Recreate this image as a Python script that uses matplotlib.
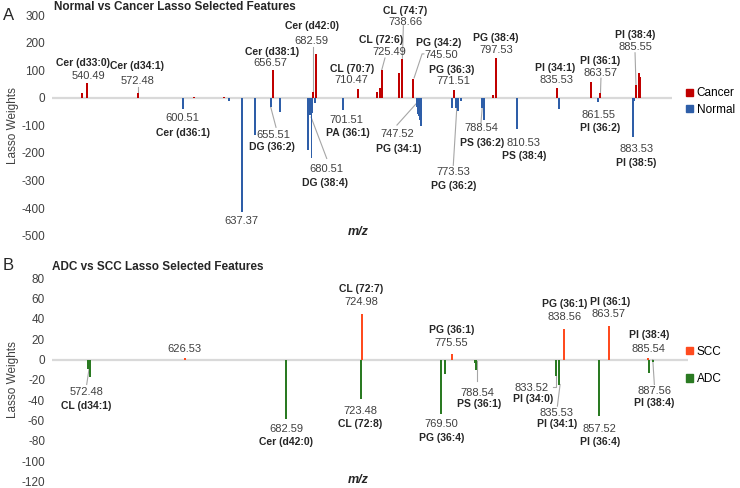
import matplotlib
matplotlib.use('Agg')
import matplotlib.pyplot as plt
from matplotlib.patches import Patch

plt.rcParams['font.family'] = ['Liberation Sans', 'DejaVu Sans']
plt.rcParams['axes.unicode_minus'] = False

# ---------------- Panel A data (Normal vs Cancer) ----------------
a_cancer_mz = [537.5, 540.5, 572.5, 607.5, 626.0, 656.6, 681.9, 683.8, 709.6,
               721.5, 723.6, 724.6, 735.5, 737.4, 744.2, 770.0, 794.4, 796.0,
               834.0, 855.5, 861.3, 883.4, 885.3, 886.3]
a_cancer_w = [16, 52, 16, 2, 2, 101, 22, 158, 30,
              22, 34, 101, 89, 141, 68, 28, 10, 143,
              34, 58, 16, 46, 89, 76]
a_normal_mz = [600.7, 629.0, 637.4, 645.5, 655.2, 661.0, 678.5, 679.3, 680.0,
               680.8, 681.4, 683.0, 700.7, 746.5, 747.2, 747.8, 748.4, 749.0,
               768.4, 771.0, 772.6, 774.0, 787.3, 788.0, 788.6, 809.2, 835.5,
               859.9, 881.9, 882.6]
a_normal_w = [-39, -12, -415, -136, -33, -51, -190, -62, -62,
              -218, -55, -20, -45, -33, -58, -67, -80, -103,
              -36, -36, -48, -10, -38, -38, -81, -115, -42,
              -15, -142, -10]

# ---------------- Panel B data (ADC vs SCC) ----------------
b_scc_mz = [626.1, 724.9, 775.4, 838.1, 862.9, 885.2]
b_scc_w = [1.5, 45, 5.6, 30.4, 33.3, 1.5]
b_adc_mz = [571.8, 572.4, 573.0, 682.6, 724.3, 769.4, 771.5, 788.3, 788.8,
            833.3, 835.3, 857.5, 885.6, 887.6]
b_adc_w = [-9, -9, -17, -58, -39, -54, -14, -3, -10,
           -16, -25, -56, -13, -2]

a_yticks = list(range(-500, 301, 100))
b_yticks = list(range(-120, 81, 20))

# labels: (name, value, name position, value position)
a_labels = [
    ("Cer (d33:0)", "540.49", (538.2, 125), (541.1, 79)),
    ("Cer (d34:1)", "572.48", (571.9, 116), (572.2, 62)),
    ("Cer (d36:1)", "600.51", (600.3, -126), (600.3, -75)),
    ("Cer (d38:1)", "656.57", (655.9, 167), (654.9, 125)),
    ("DG (36:2)", "655.51", (655.9, -178), (656.9, -136)),
    ("Cer (d42:0)", "682.59", (680.9, 261), (680.9, 207)),
    ("DG (38:4)", "680.51", (689.2, -309), (690.3, -257)),
    ("", "637.37", None, (637.2, -448)),
    ("CL (70:7)", "710.47", (705.9, 103), (705.9, 64)),
    ("PA (36:1)", "701.51", (703.8, -127), (702.8, -79)),
    ("CL (72:6)", "725.49", (724.2, 210), (729.2, 167)),
    ("CL (74:7)", "738.66", (739.2, 313), (739.6, 276)),
    ("PG (34:2)", "745.50", (760.1, 198), (761.7, 155)),
    ("PG (36:3)", "771.51", (768.4, 101), (769.4, 61)),
    ("PG (38:4)", "797.53", (796.1, 216), (796.1, 173)),
    ("PG (34:1)", "747.52", (735.1, -187), (734.4, -133)),
    ("PG (36:2)", "773.53", (769.4, -319), (769.4, -269)),
    ("PS (36:2)", "788.54", (787.2, -164), (786.7, -111)),
    ("PS (38:4)", "810.53", (813.6, -211), (813.2, -164)),
    ("PI (34:1)", "835.53", (833.0, 107), (833.6, 64)),
    ("PI (36:1)", "863.57", (861.1, 133), (861.1, 91)),
    ("PI (36:2)", "861.55", (861.1, -111), (860.1, -63)),
    ("PI (38:4)", "885.55", (883.4, 228), (883.4, 185)),
    ("PI (38:5)", "883.53", (883.6, -235), (884.1, -184)),
]
a_leaders = [
    [(572.5, 40), (572.5, 20)],
    [(655.3, -34), (658.6, -107)],
    [(681.5, 184), (681.5, 22)],
    [(680.5, -70), (690.3, -220)],
    [(726.7, 144), (724.7, 101)],
    [(738.2, 261), (737.6, 143)],
    [(751.0, 159), (749.9, 159), (744.9, 72)],
    [(746.6, -19), (734.2, -99)],
    [(771.9, -8), (769.4, -245)],
    [(787.5, -34), (786.7, -92)],
    [(861.7, 71), (861.4, 17)],
    [(883.0, 163), (883.6, 46)],
]

b_labels = [
    ("", "626.53", None, (626.1, 10.8)),
    ("CL (d34:1)", "572.48", (570.8, -45.8), (571.2, -31.7)),
    ("Cer (d42:0)", "682.59", (682.6, -81.6), (682.6, -68.6)),
    ("CL (72:7)", "724.98", (724.5, 69.6), (724.5, 56.8)),
    ("CL (72:8)", "723.48", (724.0, -63.7), (724.0, -50.7)),
    ("PG (36:1)", "775.55", (775.2, 29.4), (775.2, 16.4)),
    ("PG (36:4)", "769.50", (769.6, -76.7), (769.6, -63.7)),
    ("PS (36:1)", "788.54", (790.3, -43.4), (789.8, -32.6)),
    ("PG (36:1)", "838.56", (838.2, 54.6), (838.2, 41.8)),
    ("PI (36:1)", "863.57", (863.7, 56.2), (863.1, 45.1)),
    ("PI (38:4)", "885.54", (885.5, 24.5), (885.1, 10.8)),
    ("PI (34:0)", "833.52", (820.5, -39.2), (819.6, -27.7)),
    ("PI (34:1)", "835.53", (834.3, -63.0), (833.9, -52.2)),
    ("PI (36:4)", "857.52", (858.1, -81.0), (857.7, -68.6)),
    ("PI (38:4)", "887.56", (888.5, -42.4), (888.5, -31.1)),
]
b_leaders = [
    [(572.6, -8.1), (571.2, -24.5)],
    [(789.2, -1.7), (789.2, -21.3)],
    [(831.6, -27.4), (833.3, -27.4), (833.3, -15.7)],
    [(835.8, -24.5), (834.3, -45.8)],
    [(887.6, 0), (888.5, -24.5)],
]

RED = '#C00000'
BLUE = '#2E5EA8'
ORANGE = '#FF4B1F'
GREEN = '#2A7A22'
GRID = '#D9D9D9'
TXT = '#404040'
LEAD = '#A6A6A6'

fig = plt.figure(figsize=(7.4, 4.88), dpi=100)
W, H = 740.0, 488.0
axA = fig.add_axes([52 / W, 1 - 235.7 / H, (672 - 52) / W, (235.7 - 15) / H])
axB = fig.add_axes([52 / W, 1 - 481.5 / H, (688 - 52) / W, (481.5 - 278.3) / H])


def style(ax, yticks, xlim, label_x):
    ax.set_ylim(yticks[0], yticks[-1])
    ax.set_xlim(*xlim)
    ax.set_yticks(yticks)
    ax.set_xticks([])
    for s in ax.spines.values():
        s.set_visible(False)
    ax.tick_params(axis='y', length=0, pad=5, labelsize=8.5, labelcolor=TXT)
    ax.axhline(0, color=GRID, lw=1.6, zorder=1)
    ax.set_ylabel("Lasso Weights", fontsize=8.5, color=TXT)
    ax.yaxis.set_label_coords(label_x, 0.5)
    ax.patch.set_alpha(0)


def annotate(ax, labels, leaders):
    for name, val, npos, vpos in labels:
        if npos is not None:
            ax.text(npos[0], npos[1], name, fontsize=7.5, fontweight='bold',
                    color='#262626', ha='center', va='center', clip_on=False)
        ax.text(vpos[0], vpos[1], val, fontsize=8, color=TXT,
                ha='center', va='center', clip_on=False)
    for pts in leaders:
        xs = [p[0] for p in pts]
        ys = [p[1] for p in pts]
        ax.plot(xs, ys, color=LEAD, lw=0.8, zorder=2, clip_on=False)


style(axA, a_yticks, (518.6, 906.1), (19 - 52) / 620)
axA.bar(a_cancer_mz, a_cancer_w, width=1.2, color=RED, zorder=3)
axA.bar(a_normal_mz, a_normal_w, width=1.2, color=BLUE, zorder=3)
annotate(axA, a_labels, a_leaders)
axA.legend(handles=[Patch(color=RED, label='Cancer'), Patch(color=BLUE, label='Normal')],
           loc='center left', bbox_to_anchor=(686 / W, 1 - 101.5 / H),
           bbox_transform=fig.transFigure, frameon=False, fontsize=8.5,
           handlelength=0.6, handleheight=0.6, handletextpad=0.3,
           labelspacing=0.35, borderaxespad=0, borderpad=0)

style(axB, b_yticks, (551.8, 907.3), (19 - 52) / 636)
axB.bar(b_scc_mz, b_scc_w, width=1.1, color=ORANGE, zorder=3)
axB.bar(b_adc_mz, b_adc_w, width=1.1, color=GREEN, zorder=3)
annotate(axB, b_labels, b_leaders)
axB.legend(handles=[Patch(color=ORANGE, label='SCC'), Patch(color=GREEN, label='ADC')],
           loc='center left', bbox_to_anchor=(686 / W, 1 - 365.5 / H),
           bbox_transform=fig.transFigure, frameon=False, fontsize=8.5,
           handlelength=0.6, handleheight=0.6, handletextpad=0.3,
           labelspacing=1.3, borderaxespad=0, borderpad=0)

# titles, panel letters, axis labels
fig.text(54 / W, 1 - 7 / H, "Normal vs Cancer Lasso Selected Features",
         fontsize=8.5, fontweight='bold', color='#262626', ha='left', va='center')
fig.text(52 / W, 1 - 267.5 / H, "ADC vs SCC Lasso Selected Features",
         fontsize=8.5, fontweight='bold', color='#262626', ha='left', va='center')
fig.text(3 / W, 1 - 16 / H, "A", fontsize=12, color='#262626', ha='left', va='center')
fig.text(3 / W, 1 - 265 / H, "B", fontsize=12, color='#262626', ha='left', va='center')
fig.text(358 / W, 1 - 232 / H, "m/z", fontsize=9, fontweight='bold', style='italic',
         color='#262626', ha='center', va='center')
fig.text(358 / W, 1 - 480 / H, "m/z", fontsize=9, fontweight='bold', style='italic',
         color='#262626', ha='center', va='center')

fig.savefig('out.png', dpi=100)
